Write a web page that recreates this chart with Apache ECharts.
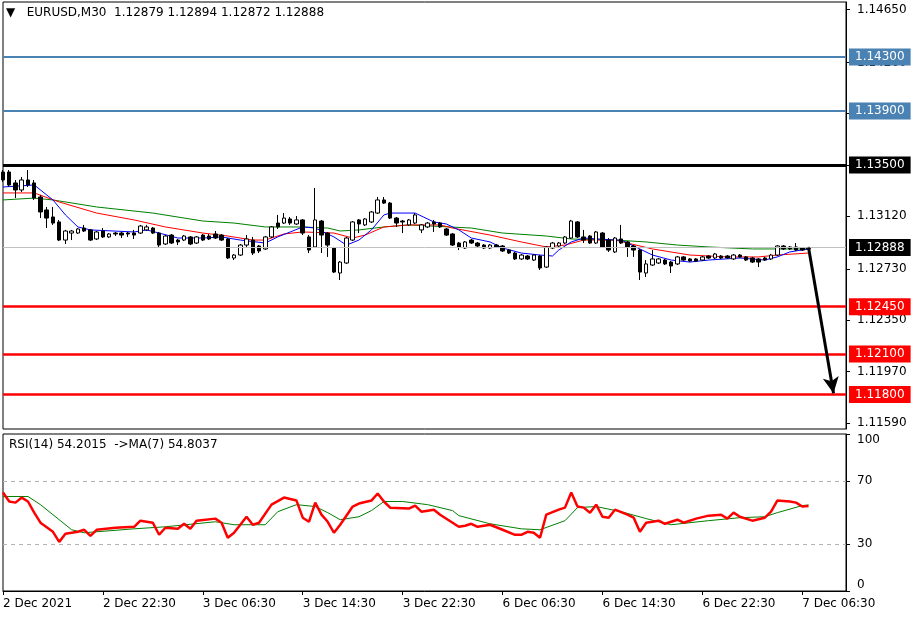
<!DOCTYPE html>
<html><head><meta charset="utf-8">
<script src="https://cdn.jsdelivr.net/npm/echarts@6/dist/echarts.min.js"></script>
<style>html,body{margin:0;padding:0;background:#fff}#c{width:924px;height:621px}</style>
</head><body><div id="c"></div>
<script>
// ---- data: [open, close, low, high] ----
const ohlc = [
[1.13448,1.13389,1.13374,1.13463],[1.13448,1.13352,1.13337,1.13463],[1.13367,1.13315,1.13255,1.13389],[1.13315,1.13389,1.13300,1.13411],
[1.13389,1.13352,1.13337,1.13463],[1.13367,1.13255,1.13241,1.13389],[1.13263,1.13152,1.13107,1.13278],[1.13167,1.13107,1.13033,1.13189],
[1.13115,1.13070,1.13056,1.13189],[1.13078,1.12944,1.12937,1.13093],[1.12944,1.13011,1.12915,1.13019],[1.12996,1.13011,1.12944,1.13019],
[1.12996,1.13026,1.12989,1.13033],[1.13033,1.13011,1.13004,1.13056],[1.13019,1.12944,1.12937,1.13026],[1.12952,1.13004,1.12944,1.13011],
[1.13011,1.12967,1.12959,1.13033],[1.12967,1.12989,1.12959,1.12996],[1.12996,1.12989,1.12974,1.13004],[1.12996,1.12981,1.12959,1.13004],
[1.12996,1.12989,1.12967,1.13004],[1.12996,1.12981,1.12952,1.13019],[1.12996,1.13048,1.12989,1.13056],[1.13019,1.13041,1.13011,1.13056],
[1.13033,1.12996,1.12989,1.13041],[1.12996,1.12907,1.12893,1.13004],[1.12915,1.12974,1.12907,1.12981],[1.12981,1.12922,1.12915,1.12989],
[1.12944,1.12930,1.12907,1.12952],[1.12944,1.12974,1.12937,1.12981],[1.12967,1.12915,1.12907,1.12974],[1.12922,1.12967,1.12915,1.12974],
[1.12981,1.12944,1.12937,1.12989],[1.12974,1.12952,1.12944,1.12989],[1.12989,1.12959,1.12952,1.13011],[1.12981,1.12944,1.12937,1.12989],
[1.12952,1.12811,1.12804,1.12959],[1.12811,1.12833,1.12796,1.12841],[1.12833,1.12907,1.12826,1.12915],[1.12907,1.12952,1.12893,1.12981],
[1.12944,1.12848,1.12833,1.12967],[1.12900,1.12863,1.12848,1.12907],[1.12878,1.12967,1.12870,1.12974],[1.12967,1.13041,1.12959,1.13048],
[1.13070,1.13041,1.13026,1.13130],[1.13070,1.13107,1.13063,1.13144],[1.13100,1.13070,1.13056,1.13115],[1.13063,1.13093,1.13056,1.13122],
[1.13093,1.12996,1.12981,1.13100],[1.12967,1.12870,1.12848,1.12981],[1.12893,1.13093,1.12885,1.13330],[1.13085,1.12981,1.12848,1.13093],
[1.12996,1.12907,1.12819,1.13004],[1.12885,1.12707,1.12700,1.12893],[1.12700,1.12781,1.12648,1.12789],[1.12774,1.12959,1.12767,1.12967],
[1.12944,1.13078,1.12937,1.13085],[1.13093,1.13063,1.12996,1.13100],[1.13056,1.13100,1.13048,1.13107],[1.13078,1.13152,1.13070,1.13159],
[1.13144,1.13241,1.13137,1.13263],[1.13241,1.13218,1.13211,1.13263],[1.13218,1.13107,1.13100,1.13226],[1.13107,1.13070,1.13041,1.13115],
[1.13085,1.13078,1.12996,1.13093],[1.13056,1.13093,1.13048,1.13100],[1.13070,1.13130,1.13063,1.13144],[1.13019,1.13056,1.12996,1.13063],
[1.13041,1.13070,1.13033,1.13078],[1.13078,1.13063,1.13004,1.13093],[1.13070,1.13041,1.13033,1.13078],[1.13026,1.12981,1.12974,1.13033],
[1.12989,1.12907,1.12900,1.12996],[1.12922,1.12893,1.12870,1.12930],[1.12885,1.12930,1.12878,1.12937],[1.12944,1.12922,1.12915,1.12952],
[1.12922,1.12900,1.12893,1.12930],[1.12907,1.12885,1.12878,1.12915],[1.12885,1.12907,1.12878,1.12915],[1.12907,1.12893,1.12885,1.12915],
[1.12900,1.12863,1.12856,1.12907],[1.12870,1.12848,1.12841,1.12878],[1.12848,1.12804,1.12796,1.12856],[1.12804,1.12833,1.12796,1.12841],
[1.12826,1.12804,1.12796,1.12833],[1.12796,1.12833,1.12789,1.12841],[1.12826,1.12737,1.12722,1.12833],[1.12744,1.12893,1.12737,1.12900],
[1.12885,1.12922,1.12878,1.12930],[1.12900,1.12922,1.12893,1.12930],[1.12922,1.12967,1.12915,1.12974],[1.12959,1.13085,1.12952,1.13093],
[1.13078,1.12967,1.12959,1.13085],[1.12967,1.12944,1.12922,1.13019],[1.12974,1.12922,1.12915,1.12981],[1.12922,1.13004,1.12915,1.13011],
[1.12996,1.12893,1.12885,1.13004],[1.12944,1.12870,1.12856,1.12959],[1.12856,1.12959,1.12848,1.12967],[1.12952,1.12922,1.12915,1.13056],
[1.12930,1.12893,1.12819,1.12937],[1.12900,1.12870,1.12819,1.12907],[1.12870,1.12707,1.12648,1.12878],[1.12700,1.12767,1.12670,1.12796],
[1.12759,1.12804,1.12752,1.12870],[1.12774,1.12804,1.12767,1.12811],[1.12796,1.12767,1.12759,1.12804],[1.12781,1.12752,1.12700,1.12789],
[1.12767,1.12819,1.12759,1.12826],[1.12819,1.12796,1.12789,1.12826],[1.12804,1.12789,1.12781,1.12811],[1.12804,1.12789,1.12781,1.12811],
[1.12796,1.12819,1.12789,1.12826],[1.12826,1.12811,1.12804,1.12833],[1.12811,1.12841,1.12804,1.12848],[1.12826,1.12811,1.12804,1.12833],
[1.12826,1.12811,1.12804,1.12833],[1.12804,1.12833,1.12796,1.12841],[1.12833,1.12819,1.12811,1.12841],[1.12819,1.12796,1.12789,1.12826],
[1.12811,1.12781,1.12774,1.12819],[1.12804,1.12781,1.12744,1.12811],[1.12811,1.12796,1.12789,1.12819],[1.12804,1.12833,1.12796,1.12841],
[1.12833,1.12900,1.12826,1.12907],[1.12900,1.12878,1.12870,1.12907],[1.12893,1.12878,1.12870,1.12900],[1.12893,1.12870,1.12863,1.12922],
[1.12885,1.12870,1.12863,1.12893],[1.12879,1.12888,1.12872,1.12894]
];
// moving averages: [barIndex, value]
const maBlue = [[0,1.13337],[5,1.13352],[8,1.13241],[10,1.13130],[12,1.13041],[14,1.13019],[21,1.13004],[23,1.13019],[25,1.12996],[28,1.12959],[32,1.12959],[35,1.12967],[38,1.12944],[42,1.12922],[44,1.12967],[48,1.13041],[50,1.13033],[53,1.12967],[55,1.12907],[57,1.12944],[59,1.13019],[61,1.13130],[62,1.13144],[66,1.13144],[69,1.13078],[71,1.13063],[73,1.13019],[75,1.12959],[78,1.12930],[80,1.12885],[83,1.12848],[86,1.12833],[88,1.12826],[89,1.12870],[91,1.12930],[93,1.12959],[98,1.12944],[99,1.12944],[101,1.12900],[104,1.12833],[107,1.12796],[110,1.12781],[113,1.12796],[118,1.12811],[122,1.12796],[124,1.12819],[126,1.12856],[129,1.12878]];
const maRed = [[0,1.13293],[5,1.13293],[9,1.13226],[15,1.13144],[21,1.13093],[26,1.13041],[32,1.12996],[36,1.12974],[40,1.12944],[42,1.12944],[45,1.12989],[48,1.13004],[53,1.12996],[56,1.12959],[58,1.12981],[61,1.13041],[65,1.13056],[70,1.13056],[72,1.13033],[78,1.12981],[83,1.12930],[87,1.12893],[90,1.12907],[93,1.12944],[98,1.12944],[100,1.12922],[104,1.12878],[110,1.12833],[116,1.12819],[121,1.12819],[124,1.12833],[129,1.12848]];
const maGreen = [[0,1.13241],[5,1.13255],[8,1.13241],[15,1.13189],[24,1.13144],[32,1.13085],[37,1.13070],[42,1.13041],[48,1.13041],[52,1.13033],[54,1.13011],[57,1.13019],[61,1.13041],[65,1.13056],[75,1.13033],[80,1.12996],[87,1.12974],[91,1.12952],[98,1.12944],[103,1.12930],[108,1.12907],[113,1.12893],[120,1.12878],[124,1.12878],[129,1.12878]];
const rsi = [[0,62.7],[1,57.0],[2,56.3],[3,59.5],[4,57.0],[5,49.9],[6,43.5],[8,37.7],[9,31.3],[10,36.4],[12,37.7],[13,39.0],[14,35.1],[15,39.0],[18,40.3],[21,40.9],[22,44.8],[24,43.5],[25,35.8],[26,40.3],[28,39.6],[29,42.8],[30,39.6],[31,44.8],[34,46.1],[35,43.5],[36,33.9],[37,37.1],[39,47.3],[40,42.2],[41,43.5],[43,55.0],[45,59.5],[47,57.6],[48,46.7],[49,44.1],[50,56.3],[51,48.6],[52,44.1],[53,37.1],[54,42.2],[56,53.8],[57,55.7],[59,57.6],[60,62.1],[61,57.0],[62,53.1],[65,52.5],[66,54.4],[67,50.5],[69,51.8],[70,48.6],[73,40.9],[74,41.6],[75,42.8],[76,40.9],[78,42.2],[80,39.0],[82,35.8],[83,35.8],[84,37.7],[85,37.1],[86,33.9],[87,48.6],[89,51.8],[90,53.1],[91,62.7],[92,53.8],[93,53.1],[94,49.9],[95,55.0],[96,47.3],[97,46.7],[98,51.8],[100,48.6],[101,46.7],[102,37.7],[103,43.5],[105,44.8],[106,42.8],[108,45.4],[109,43.5],[111,46.1],[113,48.0],[115,48.6],[116,46.1],[117,49.9],[118,47.3],[120,44.8],[122,46.7],[123,50.5],[124,57.6],[126,57.0],[127,56.3],[128,53.8],[129,54.2015]];
const rsiMa = [[0,60.2],[4,60.2],[6,55.0],[11,39.0],[13,37.1],[21,39.6],[26,40.9],[34,44.1],[37,42.2],[42,42.2],[44,50.5],[47,55.0],[50,53.8],[52,49.9],[54,45.4],[57,47.3],[59,51.2],[61,57.0],[64,57.0],[68,55.0],[72,51.2],[73,48.0],[78,42.8],[83,39.6],[86,39.0],[90,44.8],[92,53.1],[95,53.8],[99,50.5],[103,46.1],[107,42.2],[113,44.8],[118,46.7],[122,47.3],[124,49.9],[128,54.4],[129,54.8037]];
const levelsBlue = [1.14300, 1.13900];
const levelBlack = [1.13500];
const levelsRed = [1.12450, 1.12100, 1.11800];
const currentPrice = 1.12888;
const arrowPath = [[129, 1.12888], [132.8, 1.11810]];
const priceTicks = [1.1465, 1.1426, 1.1388, 1.1350, 1.1312, 1.1273, 1.1235, 1.1197, 1.1159];
const rsiTicks = [0, 30, 70, 100];
const rsiLevels = [30, 70];
const tickLabels = ["2 Dec 2021","2 Dec 22:30","3 Dec 06:30","3 Dec 14:30","3 Dec 22:30","6 Dec 06:30","6 Dec 14:30","6 Dec 22:30","7 Dec 06:30"];
const TOTAL_SLOTS = 136;

// categories: M30 bar times from 2 Dec 14:30, skipping the weekend
const categories = [];
(function(){
  let t = Date.UTC(2021,11,2,14,30);
  const pad = n => (n < 10 ? '0' : '') + n;
  for (let k = 0; k < TOTAL_SLOTS; k++) {
    const d = new Date(t);
    categories.push(d.getUTCDate() + ' Dec ' + pad(d.getUTCHours()) + ':' + pad(d.getUTCMinutes()));
    t += 1800000;
    if (t === Date.UTC(2021,11,4,0,0)) t = Date.UTC(2021,11,6,0,0);
  }
})();

const FONT = 'DejaVu Sans';
const last = ohlc[ohlc.length - 1];
const header = '\u25BC   EURUSD,M30  ' + [last[0], last[3], last[2], last[1]].map(v => v.toFixed(5)).join(' ');
const rsiLast = rsi[rsi.length - 1][1], rsiMaLast = rsiMa[rsiMa.length - 1][1];

function lvl(v, color, width, textColor, bg) {
  return { yAxis: v, lineStyle: { color: color, width: width, type: 'solid' },
    label: { show: true, position: 'end', distance: 3, formatter: v.toFixed(5), color: textColor,
      backgroundColor: bg || color, padding: [3, 6, 2, 6], fontSize: 12, fontFamily: FONT } };
}
const levelData = [].concat(
  levelsBlue.map(v => lvl(v, '#4a82b4', 2, '#fff')),
  levelBlack.map(v => lvl(v, '#000', 3, '#fff')),
  levelsRed.map(v => lvl(v, '#ff0000', 2.5, '#fff')),
  [lvl(currentPrice, '#c0c0c0', 1, '#fff', '#000')]
);
const arrowData = [[{ coord: arrowPath[0], symbol: 'none' }, { coord: arrowPath[1], symbol: 'arrow', symbolSize: [12, 16] }]];

const chart = echarts.init(document.getElementById('c'), null, { renderer: 'canvas' });
const everyTick = (i) => i % 16 === 0;
chart.setOption({
  animation: false,
  backgroundColor: '#fff',
  textStyle: { fontFamily: FONT },
  title: [
    { text: header, left: 6, top: 7, padding: 0, textStyle: { fontSize: 12, fontWeight: 'normal', color: '#000', fontFamily: FONT } },
    { text: 'RSI(14) ' + rsiLast.toFixed(4) + '  ->MA(7) ' + rsiMaLast.toFixed(4), left: 9, top: 439, padding: 0,
      textStyle: { fontSize: 12, fontWeight: 'normal', color: '#000', fontFamily: FONT } }
  ],
  grid: [
    { left: 3, top: 2, width: 843, height: 427, show: true, borderColor: '#000', borderWidth: 1, backgroundColor: '#fff' },
    { left: 3, top: 434, width: 843, height: 157, show: true, borderColor: '#000', borderWidth: 1, backgroundColor: '#fff' }
  ],
  xAxis: [
    { type: 'category', gridIndex: 0, data: categories, boundaryGap: false, show: false },
    { type: 'category', gridIndex: 1, data: categories, boundaryGap: false,
      axisLine: { show: true, lineStyle: { color: '#000' } },
      axisTick: { show: true, interval: everyTick, length: 4, lineStyle: { color: '#000' } },
      axisLabel: { interval: everyTick, align: 'left', margin: 7, fontSize: 12, color: '#000', fontFamily: FONT,
        formatter: (v, i) => tickLabels[i / 16] },
      splitLine: { show: false } }
  ],
  yAxis: [
    { type: 'value', gridIndex: 0, position: 'right', min: 1.115444, max: 1.147074,
      axisLine: { show: true, lineStyle: { color: '#000' } },
      axisTick: { show: true, length: 4, customValues: priceTicks, lineStyle: { color: '#000' } },
      axisLabel: { customValues: priceTicks, margin: 11, fontSize: 12, color: '#000', fontFamily: FONT,
        formatter: v => v.toFixed(5) },
      splitLine: { show: false } },
    { type: 'value', gridIndex: 1, position: 'right', min: 0, max: 100,
      axisLine: { show: true, lineStyle: { color: '#000' } },
      axisTick: { show: true, length: 4, customValues: rsiTicks, lineStyle: { color: '#000' } },
      axisLabel: { customValues: rsiTicks, margin: 11, fontSize: 12, color: '#000', fontFamily: FONT,
        verticalAlignMaxLabel: 'top', verticalAlignMinLabel: 'bottom', formatter: v => String(v) },
      splitLine: { show: false } }
  ],
  series: [
    { type: 'line', xAxisIndex: 0, yAxisIndex: 0, data: [], symbol: 'none', z: 1,
      markLine: { silent: true, symbol: 'none', precision: 6, animation: false, data: levelData } },
    { type: 'line', xAxisIndex: 0, yAxisIndex: 0, data: maGreen, symbol: 'none', lineStyle: { color: '#008000', width: 1 }, z: 2 },
    { type: 'line', xAxisIndex: 0, yAxisIndex: 0, data: maRed, symbol: 'none', lineStyle: { color: '#ff0000', width: 1 }, z: 2 },
    { type: 'line', xAxisIndex: 0, yAxisIndex: 0, data: maBlue, symbol: 'none', lineStyle: { color: '#0000ff', width: 1 }, z: 2,
      markLine: { silent: true, precision: 6, animation: false, label: { show: false },
        lineStyle: { color: '#000', width: 3, type: 'solid' }, data: arrowData } },
    { type: 'candlestick', xAxisIndex: 0, yAxisIndex: 0, data: ohlc, barWidth: 4, z: 3,
      itemStyle: { color: '#ffffff', color0: '#000000', borderColor: '#000000', borderColor0: '#000000', borderWidth: 1 } },
    { type: 'line', xAxisIndex: 1, yAxisIndex: 1, data: rsiMa, symbol: 'none', lineStyle: { color: '#008000', width: 1 }, z: 2,
      markLine: { silent: true, symbol: 'none', animation: false, label: { show: false },
        lineStyle: { color: '#b4b4b4', type: [4, 4], width: 1 }, data: rsiLevels.map(v => ({ yAxis: v })) } },
    { type: 'line', xAxisIndex: 1, yAxisIndex: 1, data: rsi, symbol: 'none', lineStyle: { color: '#ff0000', width: 2.5 }, z: 3 }
  ]
});
</script>
</body></html>
